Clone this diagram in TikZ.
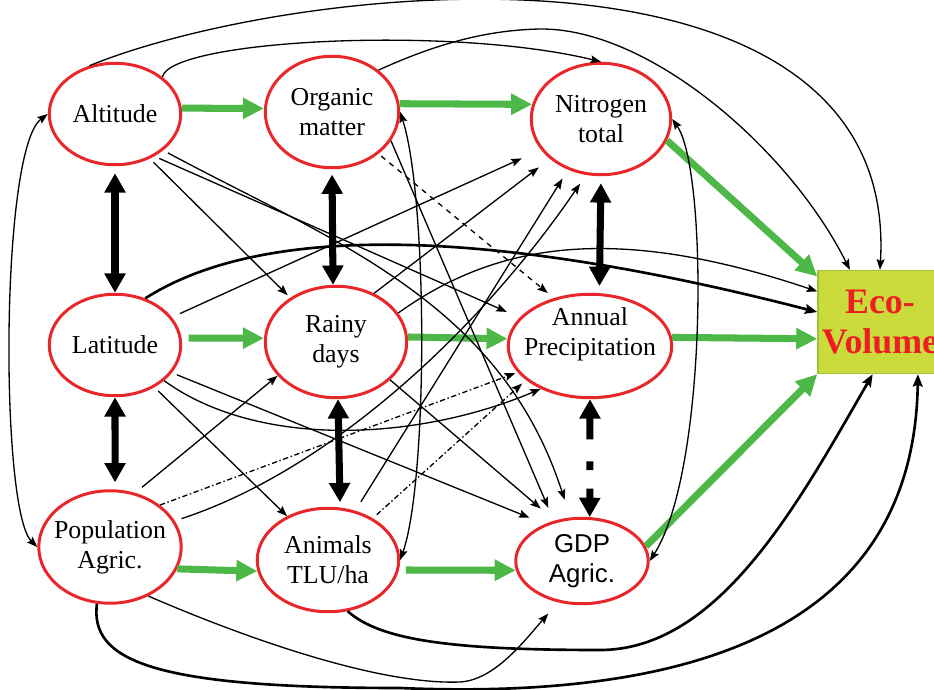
\documentclass[tikz,border=0pt]{standalone}
\usepackage{fontspec}
\setmainfont{Liberation Serif}
\newfontfamily\gdpfont{Liberation Sans}
\usetikzlibrary{arrows.meta,shapes.geometric}
\definecolor{ellred}{RGB}{233,38,42}
\definecolor{arrgreen}{RGB}{77,184,72}
\definecolor{ecofill}{RGB}{203,219,60}
\definecolor{ecoline}{RGB}{160,195,62}
\definecolor{ecored}{RGB}{236,30,36}

\begin{document}
\begin{tikzpicture}[x=0.02cm,y=-0.02cm,
  var/.style 2 args={ellipse,draw=ellred,line width=1.7pt,inner sep=0pt,minimum width=#1,minimum height=#2},
  txt/.style={font=\fontsize{14.7}{17}\selectfont,align=center,inner sep=0pt},
  eco/.style={rectangle,draw=ecoline,fill=ecofill,line width=0.8pt,minimum width=2.48cm,minimum height=2.06cm,
    inner sep=0pt,align=center,text=ecored,font=\bfseries\fontsize{20.4}{23.2}\selectfont},
  grn/.style={draw=arrgreen,line width=4pt,-{Triangle[length=12pt,width=11.5pt]}},
  dbl/.style={line width=4pt,{Triangle[length=11pt,width=11.5pt]}-{Triangle[length=11pt,width=11.5pt]}},
  lnk/.style={line width=0.75pt,-{Stealth[length=6pt,width=4.5pt,inset=1pt]}},
  lnk2/.style={lnk,{Stealth[length=6pt,width=4.5pt,inset=1pt]}-{Stealth[length=6pt,width=4.5pt,inset=1pt]}},
  hlnk/.style={line width=1.5pt,-{Stealth[length=7pt,width=5.5pt,inset=1pt]}},
  ddot/.style={dash pattern=on 3pt off 1.5pt on 0.8pt off 1.5pt}]
  \useasboundingbox (0,0) rectangle (934,690);
  \clip (0,0) rectangle (934,690);
  % variables
  \node[var={2.63cm}{2.03cm},label={[txt]center:Altitude}] (alt) at (115,114) {};
  \node[var={2.67cm}{2.23cm},label={[txt]center:{Organic\\matter}}] (org) at (332,112) {};
  \node[var={2.79cm}{2.23cm},label={[txt]center:{Nitrogen\\total}}] (nit) at (601,119) {};
  \node[var={2.63cm}{2.03cm},label={[txt]center:Latitude}] (lat) at (115,345) {};
  \node[var={2.83cm}{2.23cm},label={[txt]center:{Rainy\\days}}] (rain) at (336,342) {};
  \node[var={3.27cm}{2.07cm},label={[txt,yshift=6.5pt]center:{Annual\\Precipitation}}] (prec) at (590,346) {};
  \node[var={2.85cm}{2.25cm},label={[txt]center:{Population\\Agric.}}] (pop) at (110,547) {};
  \node[var={2.83cm}{2.07cm},label={[txt]center:{Animals\\TLU/ha}}] (anim) at (328,560) {};
  \node[var={2.65cm}{1.71cm},label={[txt,font=\gdpfont\fontsize{14.7}{17}\selectfont]center:{GDP\\Agric.}}] (gdp) at (582,561) {};
  \node[eco] (eco) at (880,322) {Eco-\\Volume};
  % green main path
  \draw[grn] (alt.5) -- (org.177);
  \draw[grn] (org.7) -- (nit.168);
  \draw[grn] (nit.-18) -- (eco.144);
  \draw[grn,shorten <=4pt] (lat.6) -- (rain.177);
  \draw[grn] (rain.4) -- (prec.175);
  \draw[grn] (prec.6) -- (eco.195);
  \draw[grn] (pop.-18) -- (anim.189);
  \draw[grn,shorten <=4pt] (anim.-8) -- (gdp.188);
  \draw[grn] (gdp.13) -- (eco.south west);
  % vertical pairs
  \draw[dbl,shorten <=4pt] (alt.south) -- (lat.north);
  \draw[dbl,shorten >=4pt] (lat.south) -- (pop.85);
  \draw[dbl,shorten <=3pt] (org.south) -- (rain.93);
  \draw[dbl,shorten >=3pt] (rain.-88) -- (anim.77);
  \draw[dbl,shorten <=4pt,shorten >=4pt] (nit.south) -- (prec.80);
  \draw[dbl,dash pattern=on 12.5pt off 12.5pt on 5pt off 10.5pt on 10pt] (prec.south) -- (gdp.80);% dotted pair
  % altitude
  \draw[lnk] (alt.118) .. controls (300,-20) and (900,-80) .. (eco.north);
  \draw[lnk] (alt.38) .. controls (170,40) and (450,25) .. (nit.north);
  \draw[lnk,shorten <=3pt,shorten >=2pt] (alt.-52) -- (rain.136);
  \draw[lnk,shorten <=3pt,shorten >=8pt] (alt.-47) -- (prec.158);
  \draw[lnk,shorten <=3pt,shorten >=10.5pt] (alt.-37) .. controls (330,240) and (500,300) .. (gdp.105);
  \draw[lnk2] (alt.west) .. controls (0,150) and (0,510) .. (pop.west);% left loop
  % organic matter
  \draw[lnk] (org.42) .. controls (440,42) and (490,30) .. (540,29) .. controls (650,28) and (790,150) .. (eco.120);
  \draw[lnk,shorten >=8pt] (org.-26) -- (gdp.125);
  \draw[lnk,dashed,shorten <=2pt,shorten >=4.5pt] (org.-42) -- (prec.127);
  \draw[lnk2] (org.east) .. controls (428,200) and (428,480) .. (anim.east);
  \draw[lnk2] (nit.east) .. controls (708,170) and (708,470) .. (gdp.east);
  % latitude
  \draw[lnk,shorten <=5pt,shorten >=12pt] (lat.26) -- (nit.207);
  \draw[hlnk] (lat.57) .. controls (260,225) and (480,225) .. (eco.171);
  \draw[lnk] (lat.-36) .. controls (260,450) and (420,440) .. (prec.221);
  \draw[lnk,shorten <=3pt,shorten >=9.5pt] (lat.-26) -- (gdp.135);
  \draw[lnk,shorten <=3pt] (lat.-47) -- (anim.133);
  % rainy days
  \draw[lnk,shorten >=8pt] (rain.52) -- (nit.218);
  \draw[lnk] (rain.25) .. controls (500,240) and (620,225) .. (eco.154);
  \draw[lnk,shorten >=10.5pt] (rain.-35) -- (gdp.124);
  % population
  \draw[lnk,shorten <=5pt] (pop.65) -- (rain.210);
  \draw[lnk,ddot,shorten >=1.5pt] (pop.40) -- (prec.200);
  \draw[lnk,shorten <=4pt,shorten >=6pt] (pop.22) .. controls (330,470) and (480,330) .. (nit.255);
  \draw[lnk,shorten >=8.5pt] (pop.-52) .. controls (250,640) and (380,685) .. (460,682) .. controls (495,680) and (525,640) .. (gdp.240);
  \draw[hlnk] (pop.-103) .. controls (90,660) and (150,688) .. (400,688) .. controls (800,705) and (915,560) .. (eco.-54);
  % animals
  \draw[lnk,shorten <=6pt,shorten >=6pt] (anim.61) -- (nit.237);
  \draw[lnk,ddot,shorten <=3pt,shorten >=3pt] (anim.43) -- (prec.208);
  \draw[hlnk] (anim.-69) .. controls (380,640) and (450,650) .. (600,650) .. controls (720,650) and (800,500) .. (eco.-98);
\end{tikzpicture}
\end{document}
